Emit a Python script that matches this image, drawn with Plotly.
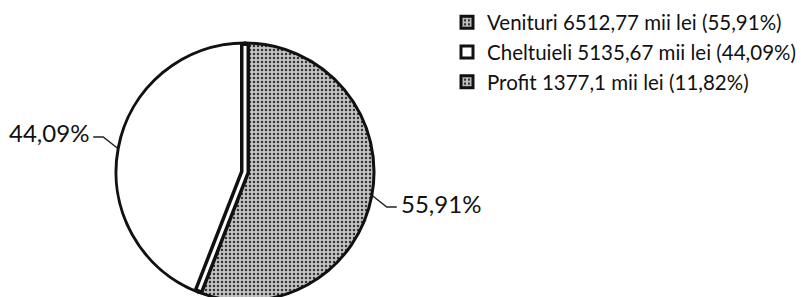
import math
import plotly.graph_objects as go

# ---------------- data ----------------
categories = ["Venituri", "Cheltuieli", "Profit"]
values_mii_lei = [6512.77, 5135.67, 1377.1]
in_pie = [True, True, False]          # profit is listed in the legend only
unit = "mii lei"

# ---------------- layout constants ----------------
OFF = 8                                # page body margin of the browser
W, H = 805 - OFF, 293
CX, CY, R = 245.0 - OFF, 172.0 - OFF, 129.0   # pie centre / radius in figure px
FONT = "Lato"

total = sum(v for v, f in zip(values_mii_lei, in_pie) if f)

def fmt_num(v):
    return f"{v:g}".replace(".", ",")

def fmt_pct(v):
    return f"{v / total * 100:.2f}".replace(".", ",") + "%"

legend_labels = [f"{c} {fmt_num(v)} {unit} ({fmt_pct(v)})" for c, v in zip(categories, values_mii_lei)]
pie_values = [v if f else 0 for v, f in zip(values_mii_lei, in_pie)]

fill_colors = ["#c4c4c4", "#ffffff", "#c4c4c4"]
pat_shapes = [".", "", "."]

def px2paper(x, y):
    return x / W, 1 - y / H

fig = go.Figure()
fig.add_trace(go.Pie(
    labels=legend_labels,
    values=pie_values,
    sort=False,
    direction="clockwise",
    rotation=0,
    textinfo="none",
    hoverinfo="label",
    marker=dict(
        colors=fill_colors,
        line=dict(color="#111111", width=3),
        pattern=dict(shape=pat_shapes, fgcolor="#333333", bgcolor=fill_colors, size=4, solidity=0.3),
    ),
    domain=dict(x=[(CX - R) / W, (CX + R) / W], y=[(H - CY - R) / H, (H - CY + R) / H]),
    showlegend=True,
))

shapes = []
annotations = []

cum = 0.0
bounds = [0.0]
for v, f in zip(values_mii_lei, in_pie):
    if f:
        cum += v / total
        bounds.append(cum)

def pt(frac, r):
    a = 2 * math.pi * frac
    return CX + r * math.sin(a), CY - r * math.cos(a)

# double separator line between the slices
for color, width, rr in (("#111111", 10, R - 1), ("#ffffff", 3, R - 3)):
    p0 = px2paper(*pt(bounds[0], rr))
    pc = px2paper(CX, CY)
    p1 = px2paper(*pt(bounds[-2], rr))
    shapes.append(dict(type="path", xref="paper", yref="paper",
                       path=f"M {p0[0]},{p0[1]} L {pc[0]},{pc[1]} L {p1[0]},{p1[1]}",
                       line=dict(color=color, width=width), layer="above"))

# percentage labels with leader lines
i = 0
for v, f in zip(values_mii_lei, in_pie):
    if not f:
        continue
    mid = (bounds[i] + bounds[i + 1]) / 2
    i += 1
    ex, ey = pt(mid, R + 1)
    sx = 1 if math.sin(2 * math.pi * mid) >= 0 else -1
    sy = 1 if -math.cos(2 * math.pi * mid) >= 0 else -1
    bx, by = ex + sx * 14, ey + sy * 11
    hx = bx + sx * 10
    pts = [px2paper(ex, ey), px2paper(bx, by), px2paper(hx, by)]
    shapes.append(dict(type="path", xref="paper", yref="paper",
                       path="M " + " L ".join(f"{a},{b}" for a, b in pts),
                       line=dict(color="#222222", width=1.5)))
    tx, ty = px2paper(hx + sx * 2, by - 4)
    annotations.append(dict(xref="paper", yref="paper", x=tx, y=ty,
                            xanchor="left" if sx > 0 else "right", yanchor="middle",
                            text=fmt_pct(v), showarrow=False,
                            font=dict(family=FONT, size=24, color="#111111")))

fig.update_layout(
    width=W, height=H,
    margin=dict(l=0, r=0, t=0, b=0, autoexpand=False),
    paper_bgcolor="white", plot_bgcolor="white",
    font=dict(family=FONT, size=20.5, color="#111111"),
    shapes=shapes, annotations=annotations,
    legend=dict(x=(488 - OFF - 41) / W, y=1 + 5.5 / H, xanchor="left", yanchor="top",
                font=dict(family=FONT, size=20.5, color="#111111"),
                bgcolor="rgba(0,0,0,0)", traceorder="normal"),
)

fig.write_html("out.html")
